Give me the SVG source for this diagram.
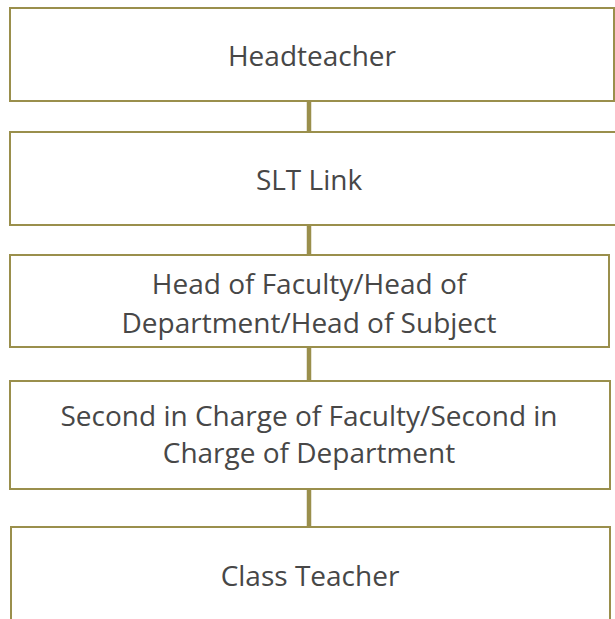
<svg xmlns="http://www.w3.org/2000/svg" width="615" height="619" viewBox="0 0 615 619">
<style>
.box{fill:#ffffff;stroke:#9a8f4c;stroke-width:2}
.t{font-family:"Open Sans","Liberation Sans",sans-serif;font-size:28px;fill:#474747;text-anchor:middle}
.c{stroke:#9a8f4c;stroke-width:4.5;fill:none}
</style>
<rect width="615" height="619" fill="#ffffff"/>
<g id="connectors">
<line class="c" x1="309" y1="101" x2="309" y2="132"/>
<line class="c" x1="309" y1="225" x2="309" y2="255"/>
<line class="c" x1="309" y1="347" x2="309" y2="381"/>
<line class="c" x1="309" y1="489" x2="309" y2="527"/>
</g>
<g id="headteacher">
<rect class="box" x="10" y="8" width="604" height="93"/>
<text class="t" x="312" y="66">Headteacher</text>
</g>
<g id="slt-link">
<rect class="box" x="10" y="132" width="610" height="93"/>
<text class="t" x="309" y="190">SLT Link</text>
</g>
<g id="head-of-faculty">
<rect class="box" x="10" y="255" width="599" height="92"/>
<text class="t" x="309" y="294">Head of Faculty/Head of</text>
<text class="t" x="309" y="333">Department/Head of Subject</text>
</g>
<g id="second-in-charge">
<rect class="box" x="10" y="381" width="600" height="108"/>
<text class="t" x="309" y="426">Second in Charge of Faculty/Second in</text>
<text class="t" x="309" y="463">Charge of Department</text>
</g>
<g id="class-teacher">
<rect class="box" x="11" y="527" width="599" height="100"/>
<text class="t" x="310" y="586">Class Teacher</text>
</g>
</svg>
